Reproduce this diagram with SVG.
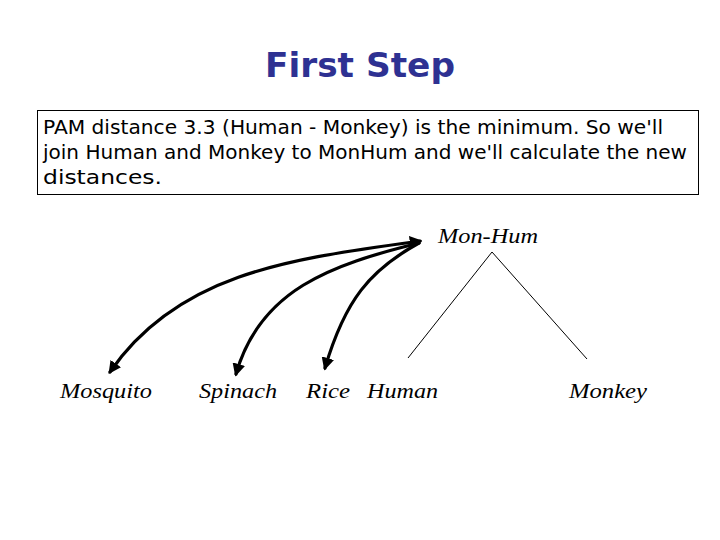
<svg xmlns="http://www.w3.org/2000/svg" width="720" height="540" viewBox="0 0 720 540">
<style>
.title{font-family:"DejaVu Sans","Liberation Sans",sans-serif;font-weight:bold;font-size:34px;fill:#2e3192}
.body{font-family:"DejaVu Sans","Liberation Sans",sans-serif;font-size:19px;fill:#000}
.lbl{font-family:"Liberation Serif","DejaVu Serif",serif;font-style:italic;font-size:22px;fill:#000}
.arc{fill:none;stroke:#000;stroke-width:3.2;stroke-linecap:round}
.tree{fill:none;stroke:#000;stroke-width:1}
</style>
<defs>
<marker id="ah" viewBox="0 0 10 10" refX="8" refY="5" markerWidth="4" markerHeight="4" orient="auto-start-reverse" markerUnits="strokeWidth">
<path d="M0,0 L10,5 L0,10 z" fill="#000"/>
</marker>
</defs>
<rect width="720" height="540" fill="#fff"/>
<text class="title" x="360" y="77" text-anchor="middle" textLength="190" lengthAdjust="spacingAndGlyphs">First Step</text>
<g id="note">
<rect x="37.5" y="110.5" width="661" height="84" fill="#fff" stroke="#000" stroke-width="1"/>
<text class="body" x="43" y="134" textLength="620" lengthAdjust="spacingAndGlyphs">PAM distance 3.3 (Human - Monkey) is the minimum. So we'll</text>
<text class="body" x="43" y="159" textLength="644" lengthAdjust="spacingAndGlyphs">join Human and Monkey to MonHum and we'll calculate the new</text>
<text class="body" x="43" y="184" textLength="119" lengthAdjust="spacingAndGlyphs">distances.</text>
</g>
<g id="monhum"><text class="lbl" x="438" y="243" textLength="100" lengthAdjust="spacingAndGlyphs">Mon-Hum</text></g>
<g id="mosquito"><text class="lbl" x="60" y="398" textLength="92" lengthAdjust="spacingAndGlyphs">Mosquito</text></g>
<g id="spinach"><text class="lbl" x="199" y="398" textLength="78" lengthAdjust="spacingAndGlyphs">Spinach</text></g>
<g id="rice"><text class="lbl" x="306" y="398" textLength="44" lengthAdjust="spacingAndGlyphs">Rice</text></g>
<g id="human"><text class="lbl" x="367" y="398" textLength="71" lengthAdjust="spacingAndGlyphs">Human</text></g>
<g id="monkey"><text class="lbl" x="569" y="398" textLength="78" lengthAdjust="spacingAndGlyphs">Monkey</text></g>
<g id="connectors">
<line class="tree" x1="492" y1="252" x2="408" y2="358"/>
<line class="tree" x1="492" y1="252" x2="587" y2="359"/>
<path class="arc" d="M420,241 C300,258 180,270 110,372" marker-start="url(#ah)" marker-end="url(#ah)"/>
<path class="arc" d="M419,243 C330,265 260,290 236,374" marker-end="url(#ah)"/>
<path class="arc" d="M419,243 C370,270 345,300 325,368" marker-end="url(#ah)"/>
</g>
</svg>
